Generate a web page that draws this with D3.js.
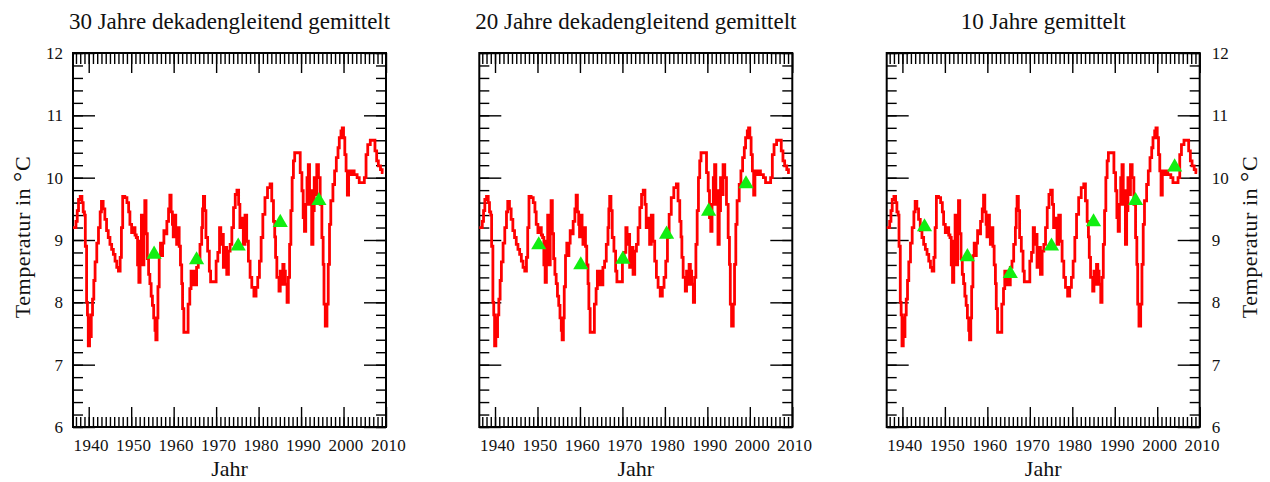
<!DOCTYPE html>
<html>
<head>
<meta charset="utf-8">
<script src="https://cdn.jsdelivr.net/npm/d3@7"></script>
<style>
  body { margin: 0; background: #fff; }
  text { font-family: "Liberation Serif", "DejaVu Serif", serif; fill: #111; }
</style>
</head>
<body>
<div id="chart"></div>
<script>
//variables
const width = 1270;
const height = 482;
const plotWidth = 313;
const plotHeight = 374;
const plotTop = 53;
const panelLefts = [73, 479.3, 886.7];
const yearDomain = [1936.3, 2010];
const tempDomain = [6, 12];

//red curve (moving average)
const years = [
  1936.3, 1936.7, 1937.0, 1937.3, 1937.6, 1938.0, 1938.4, 1938.7, 1939.0, 1939.2,
  1939.5, 1939.7, 1939.9, 1940.2, 1940.4, 1940.6, 1940.9, 1941.2, 1941.5, 1941.9,
  1942.3, 1942.7, 1943.0, 1943.4, 1943.8, 1944.2, 1944.6, 1945.0, 1945.4, 1945.8,
  1946.2, 1946.6, 1947.0, 1947.4, 1947.7, 1948.0, 1948.5, 1949.0, 1949.4, 1949.7,
  1950.1, 1950.5, 1950.9, 1951.2, 1951.5, 1951.8, 1952.1, 1952.4, 1952.7, 1953.0,
  1953.2, 1953.5, 1953.8, 1954.1, 1954.4, 1954.7, 1955.0, 1955.3, 1955.6, 1955.8,
  1956.1, 1956.3, 1956.6, 1956.9, 1957.1, 1957.4, 1957.7, 1958.0, 1958.4, 1958.8,
  1959.1, 1959.4, 1959.7, 1959.9, 1960.2, 1960.5, 1960.7, 1961.0, 1961.3, 1961.6,
  1961.9, 1962.1, 1962.4, 1963.1, 1963.4, 1963.8, 1964.1, 1964.4, 1964.8, 1965.1,
  1965.4, 1965.8, 1966.2, 1966.6, 1966.8, 1967.0, 1967.3, 1967.6, 1968.0, 1968.4,
  1968.7, 1970.0, 1970.4, 1970.8, 1971.1, 1971.5, 1971.7, 1972.1, 1972.5, 1972.9,
  1973.3, 1973.7, 1974.1, 1974.5, 1974.9, 1975.3, 1975.6, 1976.0, 1976.4, 1976.8,
  1977.2, 1977.6, 1978.0, 1978.4, 1978.9, 1979.4, 1979.8, 1980.2, 1980.6, 1981.0,
  1981.5, 1982.1, 1982.7, 1983.1, 1983.5, 1983.8, 1984.0, 1984.3, 1984.8, 1985.1,
  1985.4, 1985.7, 1986.0, 1986.3, 1986.7, 1987.0, 1987.3, 1987.6, 1987.9, 1988.2,
  1988.5, 1989.4, 1989.8, 1990.2, 1990.5, 1990.8, 1991.1, 1991.4, 1991.7, 1992.0,
  1992.3, 1992.5, 1992.8, 1993.1, 1993.4, 1993.7, 1994.1, 1994.5, 1994.9, 1995.2,
  1995.4, 1995.7, 1996.1, 1996.4, 1996.7, 1997.0, 1997.5, 1997.9, 1998.3, 1998.7,
  1999.0, 1999.4, 1999.7, 2000.0, 2000.3, 2000.6, 2000.9, 2001.2, 2001.6, 2002.0,
  2002.5, 2003.2, 2003.7, 2004.9, 2005.3, 2005.7, 2006.3, 2007.1, 2007.4, 2007.8,
  2008.2, 2008.7, 2009.1, 2009.4
];
const temps = [
  9.2, 9.2, 9.3, 9.47, 9.65, 9.7, 9.6, 9.45, 9.4, 8.9,
  8.0, 7.8, 7.3, 7.75, 7.45, 7.8, 8.05, 8.35, 8.65, 8.95,
  9.2, 9.45, 9.62, 9.5, 9.33, 9.15, 9.04, 8.93, 8.85, 8.77,
  8.66, 8.56, 8.5, 8.72, 9.2, 9.7, 9.68, 9.6, 9.45, 9.25,
  9.12, 9.2, 9.08, 9.04, 8.6, 8.32, 8.98, 9.4, 8.6, 9.1,
  9.63, 9.1, 8.7, 8.45, 8.3, 8.1, 7.95, 7.75, 7.55, 7.4,
  7.75, 8.25, 8.75, 8.95, 8.75, 8.95, 9.15, 9.1, 9.3, 9.5,
  9.72, 9.45, 9.25, 9.05, 9.4, 9.05, 8.93, 9.2, 8.9, 8.6,
  8.3, 7.9, 7.52, 7.52, 7.97, 8.22, 8.5, 8.28, 8.5, 8.28,
  8.56, 8.66, 8.93, 9.2, 9.5, 9.7, 9.47, 9.04, 8.82, 8.5,
  8.33, 8.66, 8.8, 9.2, 8.93, 9.09, 8.56, 8.88, 8.45, 8.82,
  8.93, 9.2, 9.52, 9.73, 9.8, 9.57, 9.2, 9.35, 8.93, 9.4,
  8.98, 8.66, 8.4, 8.24, 8.1, 8.24, 8.4, 8.66, 9.04, 9.41,
  9.68, 9.84, 9.9, 9.63, 9.3, 9.05, 8.72, 8.4, 8.18, 8.5,
  8.29, 8.61, 8.5, 8.29, 8.0, 8.4, 8.93, 9.47, 10.0, 10.27,
  10.4, 10.4, 10.08, 9.79, 9.36, 9.14, 9.57, 10.0, 10.21, 9.57,
  9.79, 8.93, 9.47, 10.0, 9.73, 10.21, 10.0, 9.57, 9.04, 8.61,
  7.97, 7.62, 7.97, 8.61, 9.25, 9.63, 9.89, 10.11, 10.32, 10.48,
  10.64, 10.75, 10.8, 10.64, 10.37, 10.11, 9.72, 10.11, 10.05, 10.11,
  10.05, 10.0, 9.92, 10.0, 10.37, 10.53, 10.6, 10.6, 10.43, 10.27,
  10.19, 10.13, 10.08, 10.08
];

//green triangles (period means)
const mean30Years = [1955.4, 1965.4, 1975.2, 1985.1, 1994.2];
const mean30Temps = [8.77, 8.68, 8.9, 9.28, 9.63];
const mean20Years = [1950.3, 1960.2, 1970.1, 1980.4, 1990.3, 1999.1];
const mean20Temps = [8.92, 8.6, 8.69, 9.09, 9.46, 9.9];
const mean10Years = [1945.2, 1955.3, 1965.4, 1975.1, 1985.0, 1994.9, 2004.1];
const mean10Temps = [9.21, 8.73, 8.46, 8.9, 9.29, 9.63, 10.17];

//tick labels
const xTickYears = [1940, 1950, 1960, 1970, 1980, 1990, 2000, 2010];
const yTickTemps = [6, 7, 8, 9, 10, 11, 12];

const titles = [
  "30 Jahre dekadengleitend gemittelt",
  "20 Jahre dekadengleitend gemittelt",
  "10 Jahre gemittelt",
];
const means = [
  [mean30Years, mean30Temps],
  [mean20Years, mean20Temps],
  [mean10Years, mean10Temps],
];

const svg = d3
  .select("#chart")
  .append("svg")
  .attr("width", width)
  .attr("height", height);

const minorYears = d3.range(1937, 2010);
const minorTemps = d3.range(6, 12.01, 0.2).map((v) => +v.toFixed(1));

//function to add one set of ticks
const addTicks = (g, axis, x, y, cls) => {
  const a = g
    .append("g")
    .attr("class", cls)
    .attr("transform", "translate(" + x + "," + y + ")")
    .call(axis);
  a.select(".domain").remove();
  a.selectAll(".tick line").attr("stroke", "#000").attr("stroke-width", 1.4);
  a.selectAll("text")
    .style("font-family", '"Liberation Serif", serif')
    .style("font-size", "17px")
    .attr("fill", "#111");
  return a;
};

//function to draw a panel
const drawPanel = (index) => {
  const left = panelLefts[index];
  const g = svg.append("g").attr("transform", "translate(" + left + "," + plotTop + ")");

  const x = d3.scaleLinear().domain(yearDomain).range([0, plotWidth]);
  const y = d3.scaleLinear().domain(tempDomain).range([plotHeight, 0]);

  //minor ticks
  addTicks(g, d3.axisBottom(x).tickValues(minorYears).tickSizeInner(-10).tickFormat(""), 0, plotHeight, "minor");
  addTicks(g, d3.axisTop(x).tickValues(minorYears).tickSizeInner(-11).tickFormat(""), 0, 0, "minor");
  addTicks(g, d3.axisLeft(y).tickValues(minorTemps).tickSizeInner(-10).tickFormat(""), 0, 0, "minor");
  addTicks(g, d3.axisRight(y).tickValues(minorTemps).tickSizeInner(-10).tickFormat(""), plotWidth, 0, "minor");

  //major ticks
  const xAxis = addTicks(
    g,
    d3.axisBottom(x).tickValues(xTickYears).tickSizeInner(-20).tickPadding(12).tickFormat(d3.format("d")),
    0, plotHeight, "major"
  );
  xAxis.selectAll("text").attr("dx", 2).style("letter-spacing", "0.3px");
  addTicks(g, d3.axisTop(x).tickValues(xTickYears).tickSizeInner(-20).tickFormat(""), 0, 0, "major");
  addTicks(
    g,
    d3.axisLeft(y).tickValues(yTickTemps).tickSizeInner(-22).tickPadding(10)
      .tickFormat(index === 0 ? d3.format("d") : ""),
    0, 0, "major"
  );
  addTicks(
    g,
    d3.axisRight(y).tickValues(yTickTemps).tickSizeInner(-22).tickPadding(12)
      .tickFormat(index === 2 ? d3.format("d") : ""),
    plotWidth, 0, "major"
  );

  //frame
  g.append("rect")
    .attr("width", plotWidth)
    .attr("height", plotHeight)
    .attr("fill", "none")
    .attr("stroke", "#000")
    .attr("stroke-width", 2);

  //red curve
  const line = d3
    .line()
    .x((d, i) => x(years[i]))
    .y((d) => y(d))
    .curve(d3.curveStepAfter);
  g.append("path")
    .datum(temps)
    .attr("d", line)
    .attr("fill", "none")
    .attr("stroke", "#ff0000")
    .attr("stroke-width", 2.8);

  //green triangles
  const [mYears, mTemps] = means[index];
  g.selectAll(".mean")
    .data(mTemps)
    .enter()
    .append("path")
    .attr("class", "mean")
    .attr("transform", (d, i) => "translate(" + x(mYears[i]) + "," + y(d) + ")")
    .attr("d", d3.symbol().type(d3.symbolTriangle).size(100))
    .attr("fill", "#11ee11");

  //titles
  g.append("text")
    .attr("x", plotWidth / 2)
    .attr("y", 29 - plotTop)
    .attr("text-anchor", "middle")
    .style("font-size", "23px")
    .text(titles[index]);

  g.append("text")
    .attr("x", plotWidth / 2)
    .attr("y", 476 - plotTop)
    .attr("text-anchor", "middle")
    .style("font-size", "22px")
    .text("Jahr");
};

//y axis title
const addYTitle = (xPos) => {
  const t = svg
    .append("text")
    .attr("transform", "translate(" + xPos + ",237) rotate(-90)")
    .attr("text-anchor", "middle")
    .style("font-size", "22px")
    .style("letter-spacing", "0.5px");
  t.append("tspan").text("Temperatur in ");
  t.append("tspan").style("font-size", "26px").text("°");
  t.append("tspan").text("C");
};

[0, 1, 2].forEach(drawPanel);
addYTitle(30);
addYTitle(1257);
</script>
</body>
</html>
